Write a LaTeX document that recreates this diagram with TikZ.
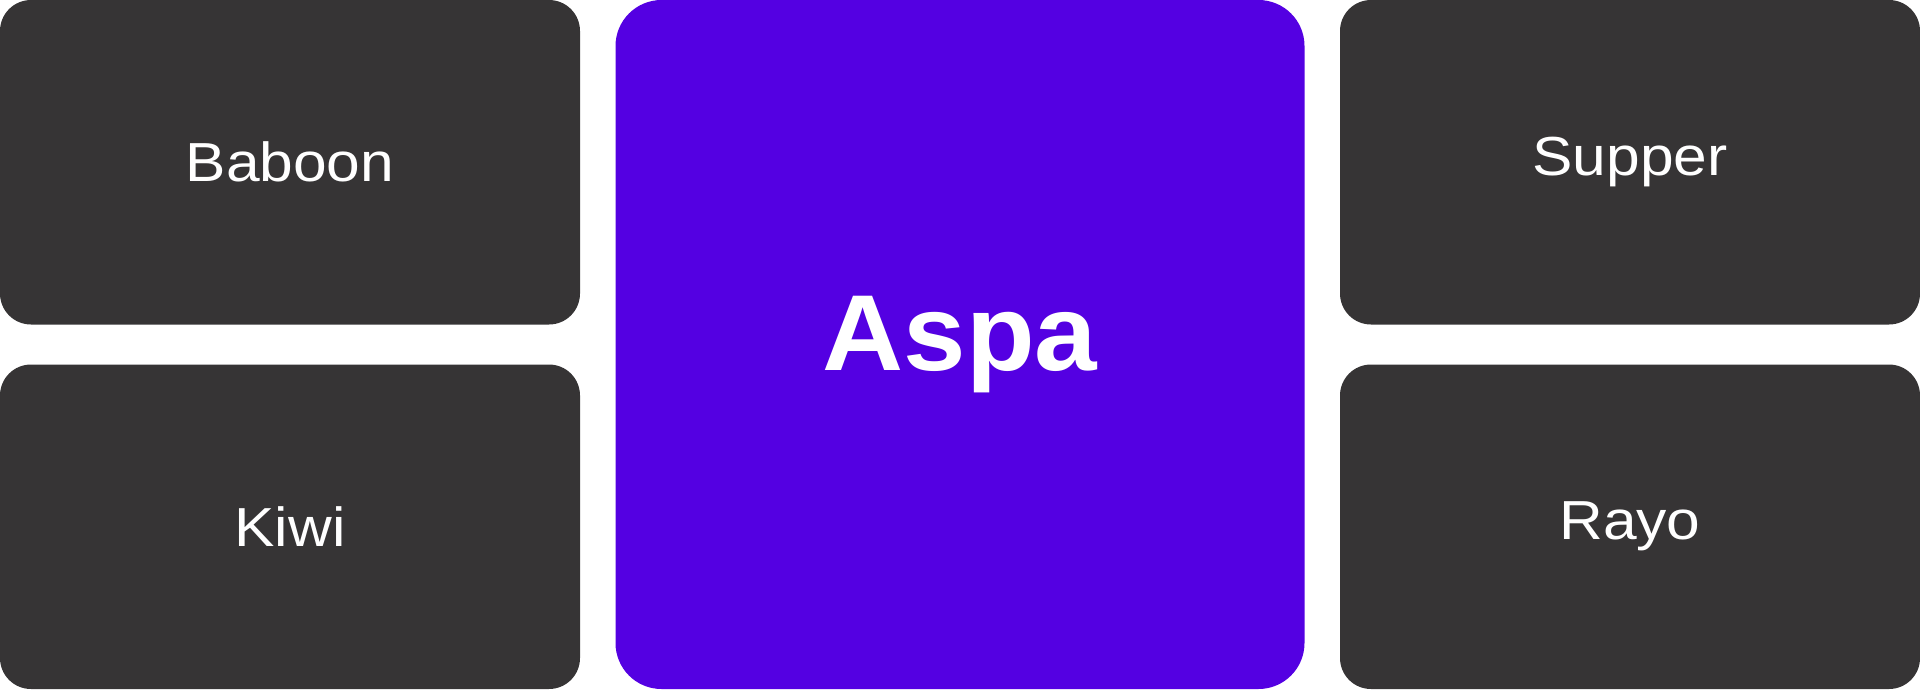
\documentclass[tikz,border=0pt]{standalone}
\usepackage{fontspec}
\setmainfont{Liberation Sans}
\newfontfamily\sidefont[FakeStretch=1.1]{Liberation Sans}
\newfontfamily\corefont[FakeStretch=1.04]{Liberation Sans}
\definecolor{boxgray}{RGB}{54,52,53}
\definecolor{boxpurple}{RGB}{84,0,226}
\begin{document}
\begin{tikzpicture}[x=1pt,y=-1pt,
  side/.style={fill=boxgray,draw=none,rounded corners=31pt,minimum width=580pt,minimum height=324.5pt,inner sep=0pt,text=white,font=\sidefont\fontsize{55}{60}\selectfont},
  core/.style={fill=boxpurple,draw=none,rounded corners=46pt,minimum width=689pt,minimum height=689pt,inner sep=0pt,text=white,font=\corefont\fontsize{108}{120}\selectfont\bfseries}]
\useasboundingbox (0,0) rectangle (1920,689);
\node[side] (baboon) at (290,162.25) {Baboon};
\node[side] (kiwi) at (290,526.75) {Kiwi};
\node[core] (aspa) at (960,344.5) {Aspa};
\node[side] (supper) at (1630,162.25) {Supper};
\node[side] (rayo) at (1630,526.75) {Rayo};
\end{tikzpicture}
\end{document}
